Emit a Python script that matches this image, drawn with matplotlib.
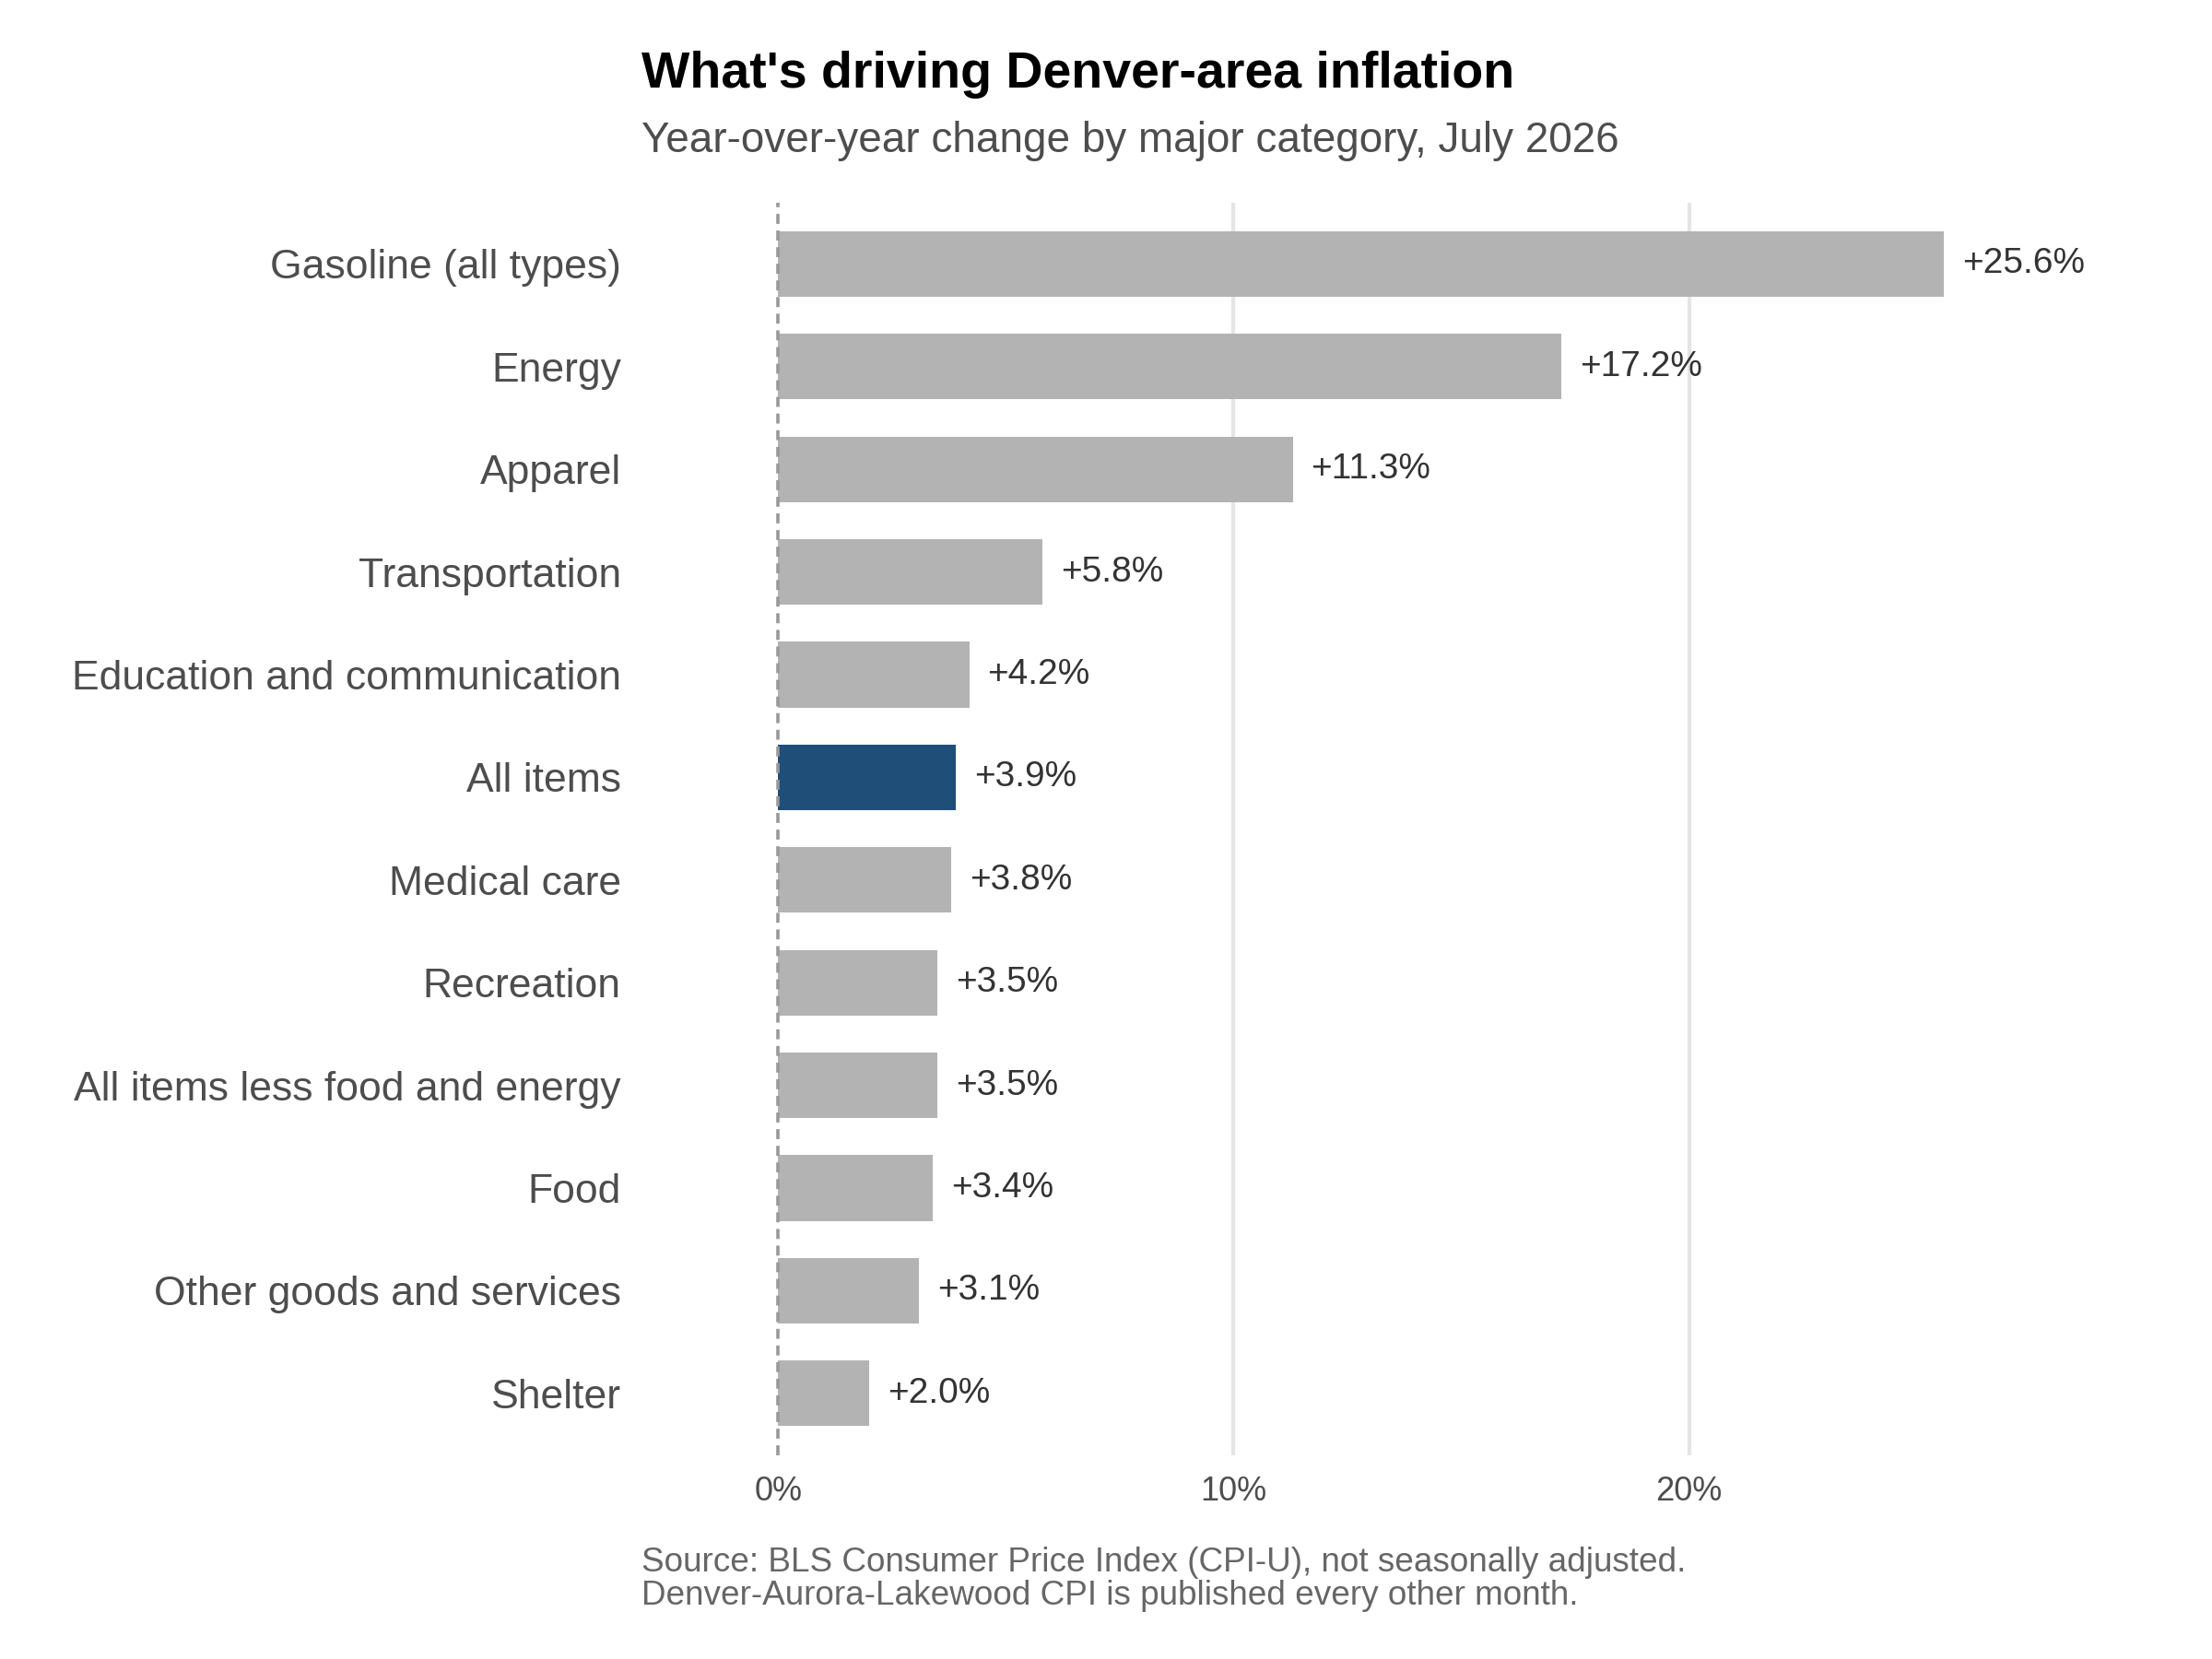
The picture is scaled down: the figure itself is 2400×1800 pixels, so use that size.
import matplotlib
matplotlib.use("Agg")
import matplotlib.pyplot as plt

categories = ["Gasoline (all types)", "Energy", "Apparel", "Transportation",
              "Education and communication", "All items", "Medical care",
              "Recreation", "All items less food and energy", "Food",
              "Other goods and services", "Shelter"]
values = [25.6, 17.2, 11.3, 5.8, 4.2, 3.9, 3.8, 3.5, 3.5, 3.4, 3.1, 2.0]
highlight = "All items"
xticks = [0, 10, 20]
xtick_labels = ["0%", "10%", "20%"]

plt.rcParams['font.family'] = ['Liberation Sans', 'DejaVu Sans']
fig = plt.figure(figsize=(12, 9), dpi=200)
ax = fig.add_axes([0.290, 0.123, 0.696, 0.755])

ypos = list(range(len(categories)))[::-1]
colors = ["#1f4e79" if c == highlight else "#b3b3b3" for c in categories]
ax.barh(ypos, values, height=0.64, color=colors, zorder=2)
for y, v in zip(ypos, values):
    ax.text(v + 0.4, y, f"+{v:.1f}%", va="center", ha="left", fontsize=14, color="#333333")

ax.set_xlim(-3.0, 30.8)
ax.set_ylim(-0.6, len(categories) - 0.4)
ax.set_yticks(ypos)
ax.set_yticklabels(categories, fontsize=16, color="#4d4d4d")
ax.set_xticks(xticks)
ax.set_xticklabels(xtick_labels, fontsize=13, color="#4d4d4d")
ax.tick_params(length=0, axis="both")
ax.tick_params(axis="y", pad=8)
ax.tick_params(axis="x", pad=8)
for s in ax.spines.values():
    s.set_visible(False)
for x in xticks[1:]:
    ax.axvline(x, color="#e5e5e5", lw=1.5, zorder=0)
ax.axvline(0, color="#999999", lw=1.3, ls=(0, (3, 2)), zorder=3)

fig.text(0.290, 0.955, "What's driving Denver-area inflation", fontsize=20, fontweight="bold", ha="left", va="center")
fig.text(0.290, 0.915, "Year-over-year change by major category, July 2026", fontsize=16.5, color="#4d4d4d", ha="left", va="center")
fig.text(0.290, 0.048, "Source: BLS Consumer Price Index (CPI-U), not seasonally adjusted.\nDenver-Aurora-Lakewood CPI is published every other month.",
         fontsize=13.3, color="#666666", ha="left", va="center", linespacing=1.05)

fig.savefig("out.png", dpi=200)
